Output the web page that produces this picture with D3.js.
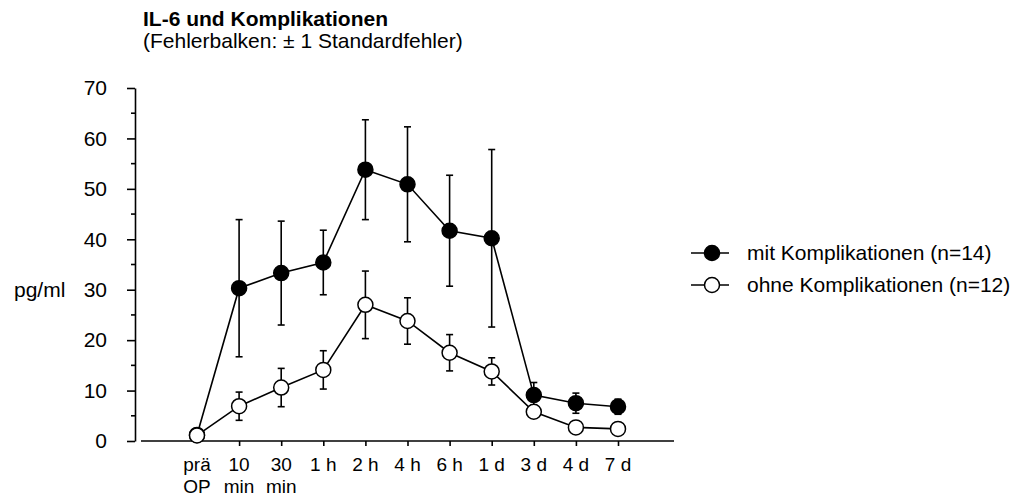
<!DOCTYPE html>
<html>
<head>
<meta charset="utf-8">
<script src="https://cdn.jsdelivr.net/npm/d3@7"></script>
<style>
  body { margin: 0; background: #fff; }
  svg { font-family: "Liberation Sans", Arial, sans-serif; }
</style>
</head>
<body>
<svg id="chart" width="1022" height="499"></svg>
<script>
// time points (two-line labels split on \n)
let categories = ['prä\nOP', '10\nmin', '30\nmin', '1 h', '2 h', '4 h', '6 h', '1 d', '3 d', '4 d', '7 d'];

// mit Komplikationen (n=14): mean and standard error
let mitMean = [1.2, 30.3, 33.3, 35.4, 53.8, 50.9, 41.7, 40.2, 9.1, 7.5, 6.8];
let mitSE   = [0.4, 13.6, 10.3, 6.4, 9.9, 11.4, 11.0, 17.6, 2.5, 2.0, 1.5];

// ohne Komplikationen (n=12)
let ohneMean = [1.1, 6.9, 10.6, 14.1, 27.0, 23.8, 17.5, 13.8, 5.8, 2.7, 2.4];
let ohneSE   = [0.3, 2.8, 3.8, 3.8, 6.7, 4.6, 3.6, 2.7, 0.9, 0.4, 0.3];

let yTicks = [0, 10, 20, 30, 40, 50, 60, 70];
let yMinorTicks = [5, 15, 25, 35, 45, 55, 65];

let series = [
    { name: 'mit Komplikationen (n=14)', mean: mitMean, se: mitSE, fill: '#000' },
    { name: 'ohne Komplikationen (n=12)', mean: ohneMean, se: ohneSE, fill: '#fff' }
];

let fontSize = 21;
let svg = d3.select('#chart');

let x = d3.scalePoint()
    .domain(categories)
    .range([141, 674])
    .padding(1.33);

let y = d3.scaleLinear()
    .domain([0, 70])
    .range([441, 88]);

let axisX = 135;

// title
svg.append('text')
    .attr('x', 143).attr('y', 26)
    .attr('font-size', fontSize).attr('font-weight', 'bold')
    .text('IL-6 und Komplikationen');
svg.append('text')
    .attr('x', 143).attr('y', 48)
    .attr('font-size', fontSize)
    .text('(Fehlerbalken: ± 1 Standardfehler)');

// y axis
let yAxis = d3.axisLeft(y)
    .tickValues(yTicks)
    .tickSize(8)
    .tickPadding(20)
    .tickSizeOuter(0);
let gy = svg.append('g')
    .attr('transform', 'translate(' + axisX + ',0)')
    .call(yAxis);
gy.selectAll('text').attr('font-size', fontSize).attr('fill', '#000');
gy.selectAll('line, path').attr('stroke', '#000').attr('stroke-width', 1.6);

gy.selectAll('line.minor')
    .data(yMinorTicks)
    .enter().append('line')
    .attr('class', 'minor')
    .attr('x1', -4).attr('x2', 0)
    .attr('y1', function(d) { return y(d); })
    .attr('y2', function(d) { return y(d); })
    .attr('stroke', '#000')
    .attr('stroke-width', 1.6);

svg.append('text')
    .attr('x', 14).attr('y', y(30))
    .attr('dy', '0.35em')
    .attr('font-size', fontSize)
    .text('pg/ml');

// x axis (no tick at the first point)
let xAxis = d3.axisBottom(x)
    .tickValues(categories.slice(1))
    .tickSize(5)
    .tickSizeOuter(0)
    .tickFormat('');
let gx = svg.append('g')
    .attr('transform', 'translate(0,' + y(0) + ')')
    .call(xAxis);
gx.select('path.domain').attr('d', 'M141,0H674');
gx.selectAll('line, path').attr('stroke', '#000').attr('stroke-width', 1.6);

let labels = svg.append('g').selectAll('text')
    .data(categories)
    .enter().append('text')
    .attr('x', function(d) { return x(d); })
    .attr('y', 471)
    .attr('text-anchor', 'middle')
    .attr('font-size', 19);
labels.each(function(d) {
    let parts = d.split('\n');
    let t = d3.select(this);
    parts.forEach(function(p, i) {
        t.append('tspan')
            .attr('x', x(d))
            .attr('dy', i === 0 ? 0 : 22)
            .text(p);
    });
});

// series
let line = d3.line()
    .x(function(d, i) { return x(categories[i]); })
    .y(function(d) { return y(d); });

series.forEach(function(s) {
    let g = svg.append('g');

    g.append('path')
        .attr('d', line(s.mean))
        .attr('fill', 'none')
        .attr('stroke', '#000')
        .attr('stroke-width', 1.6);

    let bars = g.selectAll('g.err')
        .data(s.mean)
        .enter().append('g')
        .attr('class', 'err')
        .attr('stroke', '#000')
        .attr('stroke-width', 1.6);

    bars.append('line')
        .attr('x1', function(d, i) { return x(categories[i]); })
        .attr('x2', function(d, i) { return x(categories[i]); })
        .attr('y1', function(d, i) { return y(d + s.se[i]); })
        .attr('y2', function(d, i) { return y(d - s.se[i]); });
    bars.append('line')
        .attr('x1', function(d, i) { return x(categories[i]) - 3.5; })
        .attr('x2', function(d, i) { return x(categories[i]) + 3.5; })
        .attr('y1', function(d, i) { return y(d + s.se[i]); })
        .attr('y2', function(d, i) { return y(d + s.se[i]); });
    bars.append('line')
        .attr('x1', function(d, i) { return x(categories[i]) - 3.5; })
        .attr('x2', function(d, i) { return x(categories[i]) + 3.5; })
        .attr('y1', function(d, i) { return y(d - s.se[i]); })
        .attr('y2', function(d, i) { return y(d - s.se[i]); });

    g.selectAll('circle')
        .data(s.mean)
        .enter().append('circle')
        .attr('cx', function(d, i) { return x(categories[i]); })
        .attr('cy', function(d) { return y(d); })
        .attr('r', 7.5)
        .attr('fill', s.fill)
        .attr('stroke', '#000')
        .attr('stroke-width', 1.5);
});

// legend
let legend = svg.append('g').selectAll('g')
    .data(series)
    .enter().append('g')
    .attr('transform', function(d, i) { return 'translate(0,' + (253 + i * 32) + ')'; });
legend.append('line')
    .attr('x1', 691).attr('x2', 729)
    .attr('stroke', '#000').attr('stroke-width', 1.6);
legend.append('circle')
    .attr('cx', 712).attr('r', 7.5)
    .attr('fill', function(d) { return d.fill; })
    .attr('stroke', '#000').attr('stroke-width', 1.5);
legend.append('text')
    .attr('x', 747).attr('dy', '0.35em')
    .attr('font-size', fontSize)
    .text(function(d) { return d.name; });
</script>
</body>
</html>
